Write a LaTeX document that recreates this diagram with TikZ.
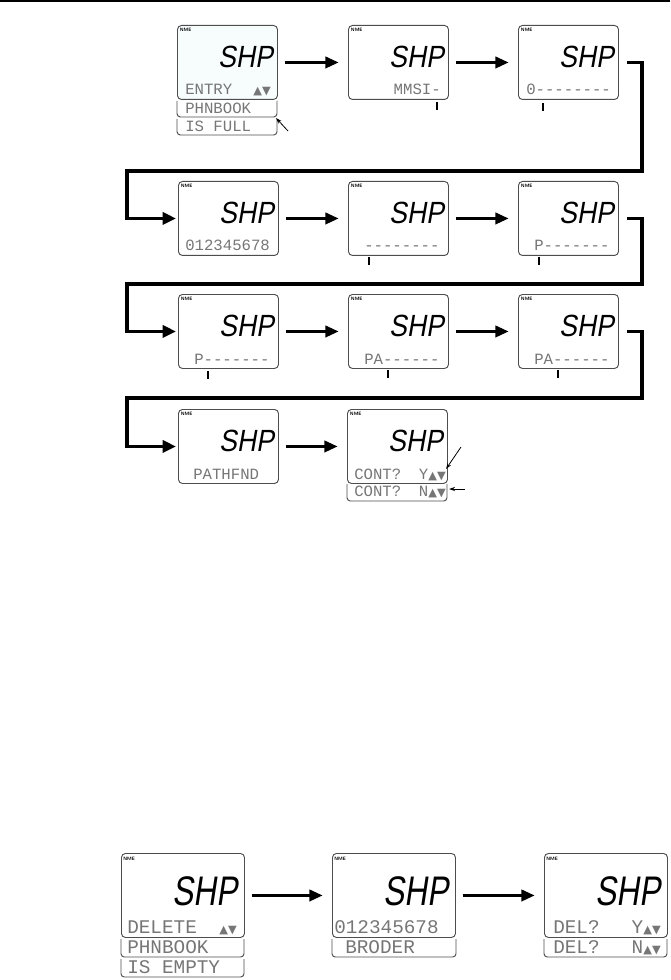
\documentclass[tikz,border=0pt]{standalone}
\usepackage{fontspec}
\usepackage{graphicx}
\usepackage{tikz}
\usetikzlibrary{arrows.meta,calc}
\newfontfamily\segfont{Liberation Sans}[FakeSlant=0.2]
\newfontfamily\dotfont{Liberation Mono}
\newfontfamily\symfont{DejaVu Sans}
\definecolor{lcdline}{HTML}{4D4D4D}
\definecolor{lcdtext}{HTML}{767676}
\definecolor{lcdtint}{HTML}{F7FCFD}
\tikzset{
  lcd/.style={draw=lcdline,line width=.7pt,rounded corners=3pt,minimum width=75pt,minimum height=55.5pt,inner sep=0pt,anchor=north west},
  lcdbig/.style={lcd,minimum width=92.25pt,minimum height=63pt},
  nme/.style={font=\fontsize{3.6}{4}\sffamily\bfseries,inner sep=0pt,anchor=north west},
  seg/.style={font=\segfont\fontsize{23}{23}\selectfont,inner sep=0pt,anchor=base east},
  segbig/.style={seg,font=\segfont\fontsize{31}{31}\selectfont},
  dot/.style={font=\dotfont\fontsize{11.75}{12}\selectfont,text=lcdtext,inner sep=0pt,anchor=base west},
  dotbig/.style={dot,font=\dotfont\fontsize{14.5}{15}\selectfont},
  tab/.style={lcdline,line width=.7pt,rounded corners=2.5pt},
  flow/.style={line width=2.2pt,-{Triangle[length=10pt,width=8.5pt]}},
  link/.style={line width=2.8pt,-{Triangle[length=10pt,width=9pt]}},
  tick/.style={line width=.9pt},
  note/.style={line width=.6pt,-{Stealth[length=4.5pt,width=3pt]}}
}
\newcommand\updn{{\symfont\fontsize{8.5}{9}\selectfont ▲▼}}
\newcommand\screen[4][]{%
  \node[lcd,#1] (#2) at (#3,#4) {};
  \node[nme] (#2-n) at ([shift={(2pt,-2.5pt)}]#2.north west) {NME};
  \node[seg] (#2-s) at ([shift={(-3.5pt,24pt)}]#2.south east) {\scalebox{.87}[1]{SHP}};}
\newcommand\bigscreen[3]{%
  \node[lcdbig] (#1) at (#2,#3) {};
  \node[nme] (#1-n) at ([shift={(1.5pt,-3pt)}]#1.north west) {NME};
  \node[segbig] (#1-s) at ([shift={(-5.25pt,24pt)}]#1.south east) {\scalebox{.765}[1]{SHP}};}

\begin{document}
\begin{tikzpicture}[x=.75pt,y=-.75pt]
\useasboundingbox (0,0) rectangle (670,980);
\draw[line width=1.5pt] (0,1) -- (670,1);

\screen[fill=lcdtint]{s1}{177}{25}
\foreach \n/\x/\y in {s2/348/25,s3/518/25,s4/178/181,s5/348/181,s6/518/181,
  s7/178/294,s8/348/294,s9/518/294,s10/178/409,s11/347/409} {\screen{\n}{\x}{\y}}
\foreach \n/\x in {b1/121,b2/332,b3/544} {\bigscreen{\n}{\x}{853}}

\node[dot] (s1-t) at (185,95) {ENTRY};
\node[dot,anchor=base east] (s1-k) at (271,95) {\updn};
\node[dot,anchor=base east] (s2-t) at (441,95) {MMSI-};
\node[dot] (s3-t) at (526,95) {0--------};
\node[dot] (s4-t) at (185,251) {012345678};
\node[dot] (s5-t) at (364,251) {--------};
\node[dot] (s6-t) at (534,251) {P-------};
\node[dot] (s7-t) at (194,364) {P-------};
\node[dot] (s8-t) at (364,364) {PA------};
\node[dot] (s9-t) at (534,364) {PA------};
\node[dot] (s10-t) at (193,479) {PATHFND};
\node[dot] (s11-t) at (354,479) {CONT?};
\node[dot,anchor=base east] (s11-k) at (446,479) {Y\updn};

\draw[tab] (177,101) |- (277,117) -- (277,101);
\draw[tab] (177,119) |- (277,135) -- (277,119);
\draw[tab] (347,484) |- (447,501) -- (447,484);
\node[dot] (t1) at (185,114) {PHNBOOK};
\node[dot] (t2) at (185,132) {IS FULL};
\node[dot] (t3) at (354,496) {CONT?};
\node[dot,anchor=base east] (t3-k) at (446,496) {N\updn};

\node[dotbig] (b1-t) at (127,933) {DELETE};
\node[dotbig,anchor=base east] (b1-k) at (237,933) {\updn};
\node[dotbig] (b2-t) at (334,933) {012345678};
\node[dotbig] (b3-t) at (553,933) {DEL?};
\node[dotbig,anchor=base east] (b3-k) at (661,933) {Y\updn};
\draw[tab] (121,939) |- (244,957) -- (244,939);
\draw[tab] (121,959) |- (244,977) -- (244,959);
\draw[tab] (332,939) |- (456,957) -- (456,939);
\draw[tab] (544,939) |- (667,957) -- (667,939);
\node[dotbig] (u1) at (127,953) {PHNBOOK};
\node[dotbig] (u2) at (127,973) {IS EMPTY};
\node[dotbig] (u3) at (345,953) {BRODER};
\node[dotbig] (u4) at (553,953) {DEL?};
\node[dotbig,anchor=base east] (u4-k) at (661,953) {N\updn};

\foreach \x/\y in {437/102,543/103,369/257,539/257,208/371,388/370,558/370}
  \draw[tick] (\x,\y) -- ++(0,8);

\foreach \a/\b in {s1/s2,s2/s3,s4/s5,s5/s6,s7/s8,s8/s9,s10/s11,b1/b2,b2/b3}
  \draw[flow] ([xshift=5pt]\a.east) -- ([xshift=-7pt]\b.west);

\coordinate (k1) at (642,171); \coordinate (k2) at (127,171);
\coordinate (k3) at (642,284); \coordinate (k4) at (127,284);
\coordinate (k5) at (642,398); \coordinate (k6) at (127,398);
\draw[link] ([xshift=6pt]s3.east) -| (k1) -- (k2) |- ([xshift=-1.5pt]s4.west);
\draw[link] ([xshift=6pt]s6.east) -| (k3) -- (k4) |- ([xshift=-1.5pt]s7.west);
\draw[link] ([xshift=6pt]s9.east) -| (k5) -- (k6) |- ([xshift=-1.5pt]s10.west);

\coordinate (m1) at (288,131); \coordinate (m2) at (276,118);
\coordinate (m3) at (461,447); \coordinate (m4) at (446,469);
\coordinate (m5) at (465,489); \coordinate (m6) at (449,489);
\draw[note] (m1) -- (m2);
\draw[note] (m3) -- (m4);
\draw[note] (m5) -- (m6);
\end{tikzpicture}
\end{document}
